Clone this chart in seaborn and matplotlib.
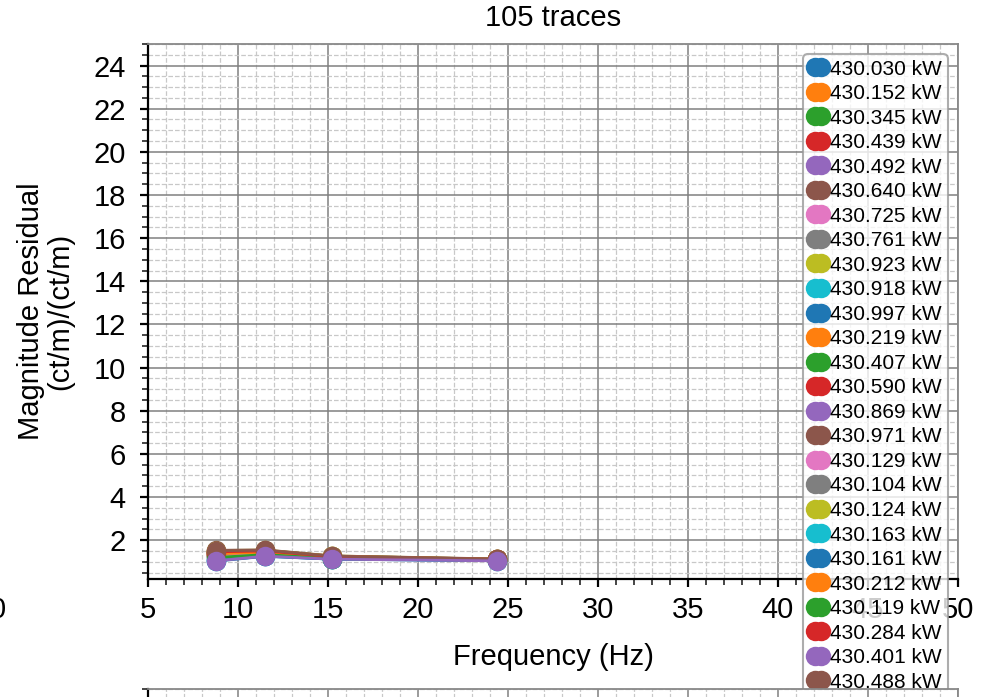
import numpy as np
import pandas as pd
import seaborn as sns
import matplotlib.pyplot as plt
from matplotlib.ticker import MultipleLocator

# ----- Data -----
freq = [8.8, 11.5, 15.2, 24.4]
power_labels = ["430.030 kW", "430.152 kW", "430.345 kW", "430.439 kW", "430.492 kW",
                "430.640 kW", "430.725 kW", "430.761 kW", "430.923 kW", "430.918 kW",
                "430.997 kW", "430.219 kW", "430.407 kW", "430.590 kW", "430.869 kW",
                "430.971 kW", "430.129 kW", "430.104 kW", "430.124 kW", "430.163 kW",
                "430.161 kW", "430.212 kW", "430.119 kW", "430.284 kW", "430.401 kW",
                "430.488 kW"]
residuals = [
    [1.42, 1.48, 1.22, 1.10], [1.38, 1.45, 1.20, 1.09], [1.45, 1.50, 1.24, 1.11],
    [1.40, 1.46, 1.21, 1.10], [1.35, 1.42, 1.19, 1.09], [1.50, 1.52, 1.26, 1.12],
    [1.33, 1.40, 1.18, 1.08], [1.47, 1.49, 1.23, 1.11], [1.52, 1.54, 1.27, 1.12],
    [1.12, 1.30, 1.14, 1.06], [1.08, 1.28, 1.13, 1.06], [1.30, 1.38, 1.17, 1.08],
    [1.36, 1.43, 1.20, 1.09], [1.44, 1.47, 1.22, 1.10], [1.28, 1.36, 1.16, 1.08],
    [1.53, 1.55, 1.27, 1.13], [1.25, 1.35, 1.16, 1.07], [1.41, 1.46, 1.21, 1.10],
    [1.48, 1.51, 1.25, 1.11], [1.05, 1.26, 1.12, 1.05], [1.03, 1.25, 1.12, 1.05],
    [1.37, 1.44, 1.20, 1.09], [1.20, 1.33, 1.15, 1.07], [1.46, 1.50, 1.24, 1.11],
    [1.04, 1.26, 1.12, 1.04], [1.51, 1.53, 1.26, 1.12],
]
n_traces = 105

# long-form table for seaborn
df = pd.DataFrame({
    "freq": np.tile(freq, len(power_labels)),
    "resid": np.concatenate(residuals),
    "power": np.repeat(power_labels, len(freq)),
})

# ----- Style -----
sns.set_style("ticks")
plt.rcParams['font.family'] = ['Liberation Sans', 'DejaVu Sans']
plt.rcParams['text.color'] = 'black'
plt.rcParams['axes.labelcolor'] = 'black'

fig = plt.figure(figsize=(9.92, 6.97), dpi=100)
ax = fig.add_axes([0.1492, 0.1693, 0.8165, 0.7676])

colors = sns.color_palette("tab10", len(power_labels))
sns.lineplot(data=df, x="freq", y="resid", hue="power", hue_order=power_labels,
             palette=colors, marker="o", markersize=14, linewidth=2,
             markeredgewidth=0, legend=False, ax=ax)
ax.lines[24].set_zorder(3)  # last purple trace sits on top


def style_axes(a):
    a.set_xlim(5, 50)
    a.xaxis.set_major_locator(MultipleLocator(5))
    a.xaxis.set_minor_locator(MultipleLocator(1))
    a.grid(which="major", color="#808080", linestyle="-", linewidth=1.1)
    a.grid(which="minor", color="#c8c8c8", linestyle="--", linewidth=0.9)
    a.tick_params(which="major", direction="out", length=6, width=1.6, labelsize=21,
                  colors="black")
    a.tick_params(which="minor", direction="out", length=4.5, width=1.2)
    a.tick_params(axis="x", which="major", pad=6)
    a.tick_params(axis="y", which="major", pad=10)
    a.spines["left"].set_color("black")
    a.spines["bottom"].set_color("black")
    a.spines["left"].set_linewidth(1.6)
    a.spines["bottom"].set_linewidth(1.6)
    for s in ("top", "right"):
        a.spines[s].set_visible(True)
        a.spines[s].set_color("#888888")
        a.spines[s].set_linewidth(1.3)
    a.set_axisbelow(True)


style_axes(ax)
ax.set_ylim(0.2, 25)
ax.yaxis.set_major_locator(MultipleLocator(2))
ax.yaxis.set_minor_locator(MultipleLocator(0.5))

ax.set_title(f"{n_traces} traces", fontsize=21, pad=13)
ax.set_xlabel("Frequency (Hz)", fontsize=21, labelpad=14)
ax.set_ylabel("Magnitude Residual\n(ct/m)/(ct/m)", fontsize=21, labelpad=14, linespacing=1.05)

leg = ax.legend(handles=ax.lines[:len(power_labels)], labels=power_labels,
                loc="upper right", fontsize=15, numpoints=2, handlelength=0.9,
                handletextpad=0.15, labelspacing=0.265, borderpad=0.25,
                borderaxespad=0.5, framealpha=0.8, edgecolor="#999999", fancybox=True)
leg.get_frame().set_linewidth(1.5)

# next subplot just peeking in at the bottom
ax2 = fig.add_axes([0.1492, -0.6, 0.8165, 0.6115])
style_axes(ax2)
ax2.set_ylim(0, 25)
ax2.yaxis.set_major_locator(MultipleLocator(2))
ax2.yaxis.set_minor_locator(MultipleLocator(0.5))
ax2.tick_params(labelleft=False, labelbottom=False)

# clipped tick label from the neighbouring panel on the left
fig.text(-0.010, 0.125, "0", fontsize=21, ha="left", va="center")

fig.savefig("out.png", dpi=100)
